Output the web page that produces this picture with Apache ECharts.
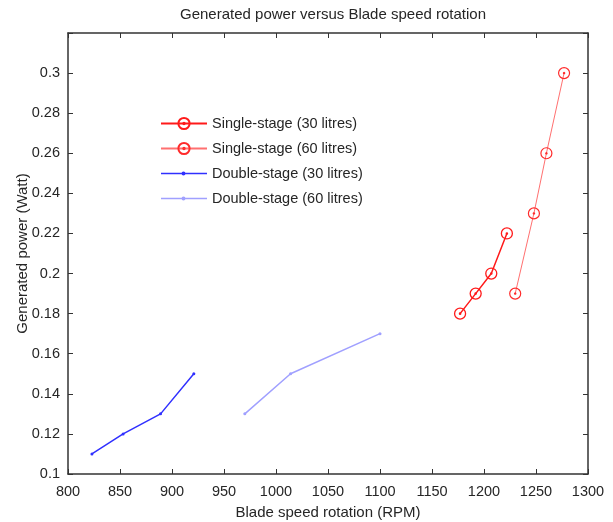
<!DOCTYPE html>
<html><head><meta charset="utf-8">
<script src="https://cdn.jsdelivr.net/npm/echarts@6/dist/echarts.min.js"></script>
<style>html,body{margin:0;padding:0;background:#fff}#c{width:613px;height:522px}</style>
</head><body><div id="c"></div>
<script>
const single30X = [1177, 1192, 1207, 1222];
const single30Y = [0.18, 0.19, 0.20, 0.22];
const single60X = [1230, 1248, 1260, 1277];
const single60Y = [0.19, 0.23, 0.26, 0.30];
const double30X = [823, 853, 889, 921];
const double30Y = [0.11, 0.12, 0.13, 0.15];
const double60X = [970, 1014, 1100];
const double60Y = [0.13, 0.15, 0.17];
const seriesNames = ['Single-stage (30 litres)', 'Single-stage (60 litres)', 'Double-stage (30 litres)', 'Double-stage (60 litres)'];
const titleText = 'Generated power versus Blade speed rotation';
const xName = 'Blade speed rotation (RPM)';
const yName = 'Generated power (Watt)';

const pair = (xs, ys) => xs.map((x, i) => [x, ys[i]]);
const ring = 'path://M0,-5A5,5 0 1,1 0,5A5,5 0 1,1 0,-5ZM0,-0.6A0.6,0.6 0 1,1 0,0.6A0.6,0.6 0 1,1 0,-0.6Z';
const dotLine = 'path://M0,1.8H46V3.2H0ZM20.5,2.5A2,2 0 1,1 24.5,2.5A2,2 0 1,1 20.5,2.5Z';
const font = 'Liberation Sans, Arial, sans-serif';
const txt = '#262626';
const axisCommon = {
  axisLine: {show: true, onZero: false, lineStyle: {color: '#333', width: 1.5}},
  axisTick: {show: true, inside: true, length: 5, lineStyle: {color: '#333'}},
  splitLine: {show: false}
};
const chart = echarts.init(document.getElementById('c'));
chart.setOption({
  animation: false,
  backgroundColor: '#fff',
  title: {text: titleText, left: 328, top: 2, textAlign: 'center',
    textStyle: {fontFamily: font, fontSize: 15, fontWeight: 'normal', color: txt}},
  grid: {left: 68, right: 25, top: 33, bottom: 48, containLabel: false, outerBoundsMode: 'none'},
  legend: {orient: 'vertical', left: 155, top: 111, itemWidth: 46, itemHeight: 14, itemGap: 10,
    textStyle: {fontFamily: font, fontSize: 14.5, color: txt},
    data: [
      {name: seriesNames[0]},
      {name: seriesNames[1]},
      {name: seriesNames[2], icon: dotLine},
      {name: seriesNames[3], icon: dotLine}
    ]},
  xAxis: [
    Object.assign({type: 'value', min: 800, max: 1300, interval: 50, position: 'bottom',
      name: xName, nameLocation: 'middle', nameGap: 31, nameMoveOverlap: false,
      nameTextStyle: {fontFamily: font, fontSize: 15, color: txt},
      axisLabel: {fontFamily: font, fontSize: 14.5, color: txt, margin: 10, formatter: v => String(v)}}, axisCommon),
    Object.assign({type: 'value', min: 800, max: 1300, interval: 50, position: 'top',
      axisLabel: {show: false}}, axisCommon)
  ],
  yAxis: [
    Object.assign({type: 'value', min: 0.1, max: 0.32, interval: 0.02, position: 'left',
      name: yName, nameLocation: 'middle', nameGap: 38, nameMoveOverlap: false,
      nameTextStyle: {fontFamily: font, fontSize: 15, color: txt},
      axisLabel: {fontFamily: font, fontSize: 14.5, color: txt, margin: 8,
        formatter: v => (Math.abs(v - 0.32) < 1e-6 ? '' : String(+v.toFixed(2)))}}, axisCommon),
    Object.assign({type: 'value', min: 0.1, max: 0.32, interval: 0.02, position: 'right',
      axisLabel: {show: false}}, axisCommon)
  ],
  series: [
    {name: seriesNames[0], type: 'line', data: pair(single30X, single30Y), symbol: ring, symbolSize: 11,
      lineStyle: {color: '#ff1a1a', width: 1.5}, itemStyle: {color: 'rgba(0,0,0,0)', borderColor: '#ff1a1a', borderWidth: 1.3}},
    {name: seriesNames[1], type: 'line', data: pair(single60X, single60Y), symbol: ring, symbolSize: 11,
      lineStyle: {color: '#ff7070', width: 1}, itemStyle: {color: 'rgba(0,0,0,0)', borderColor: '#ff2a2a', borderWidth: 1.2}},
    {name: seriesNames[2], type: 'line', data: pair(double30X, double30Y), symbol: 'circle', symbolSize: 3,
      lineStyle: {color: '#3030ff', width: 1.5}, itemStyle: {color: '#3030ff'}},
    {name: seriesNames[3], type: 'line', data: pair(double60X, double60Y), symbol: 'circle', symbolSize: 3,
      lineStyle: {color: '#a0a0ff', width: 1.5}, itemStyle: {color: '#a0a0ff'}}
  ]
});
</script></body></html>
